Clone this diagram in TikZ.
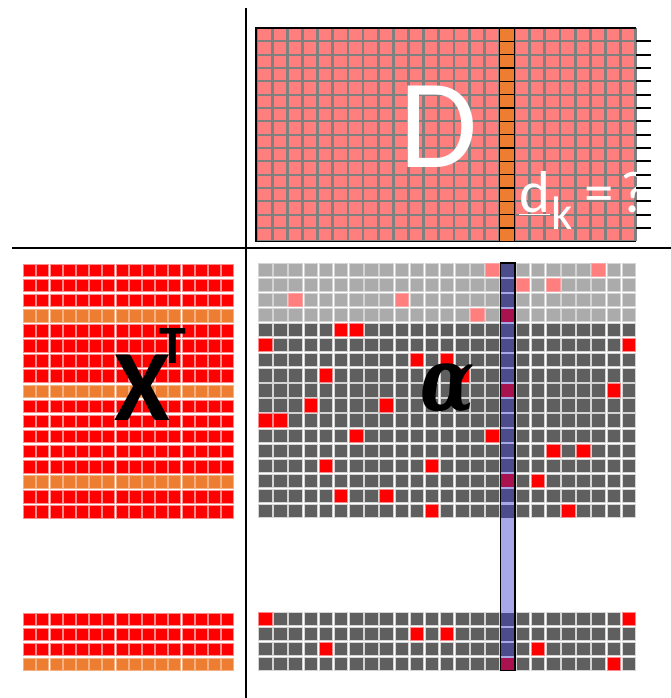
\documentclass[tikz,border=0pt]{standalone}
\usepackage{fontspec}
\usepackage{graphicx}
\newfontfamily\carl{Carlito}
\newfontfamily\dvserif{DejaVu Serif}
\definecolor{dpink}{HTML}{FF7F7F}
\definecolor{gridgray}{HTML}{808080}
\definecolor{dorange}{HTML}{ED7D31}
\definecolor{lgray}{HTML}{ABABAB}
\definecolor{dgray}{HTML}{5F5F5F}
\definecolor{cellrim}{HTML}{D4D4D4}
\definecolor{blight}{HTML}{A8A8E8}
\definecolor{bdark}{HTML}{4C4C8C}
\definecolor{bmag}{HTML}{A8124F}
\tikzset{
  xcell/.style={fill=red, draw=red!45, line width=0.6pt},
  xocell/.style={fill=dorange, draw=dorange!60, line width=0.6pt},
  lcell/.style={fill=lgray, draw=cellrim, line width=0.7pt},
  dcell/.style={fill=dgray, draw=cellrim, line width=0.7pt},
  pcell/.style={fill=dpink, draw=dpink!70, line width=0.7pt},
  rcell/.style={fill=red, draw=red!45, line width=0.7pt},
  bcell/.style={fill=bdark, draw=bdark, line width=0.4pt},
  mcell/.style={fill=bmag, draw=bmag, line width=0.4pt},
  axisline/.style={black, line width=2pt},
}
\begin{document}
\begin{tikzpicture}[x=1pt,y=-1pt]
\useasboundingbox (0,0) rectangle (671,698);
% ---------- D matrix ----------
\fill[dpink] (256,28) rectangle (636,241.3);
\foreach \k in {0,...,25} \draw[gridgray, line width=2.8pt] ({257+15.15*\k},28) -- ({257+15.15*\k},241.3);
\foreach \k in {0,...,16} \draw[gridgray, line width=2pt] (256,{28+13.33*\k}) -- (636,{28+13.33*\k});
\foreach \k in {0,...,15} \filldraw[fill=dorange, draw=black, line width=1.4pt] (499.4,{28+13.33*\k}) rectangle (514.6,{28+13.33*(\k+1)});
\draw[black, line width=1.5pt] (636,28) -- (256,28) -- (256,241.3) -- (636,241.3);
\node[anchor=base, text=white, inner sep=0, font=\carl\fontsize{127}{127}\selectfont] (dlabel) at (438.5,167) {D};
\node[anchor=base west, text=white, inner sep=0, font=\carl\fontsize{59}{59}\selectfont] (dk) at (519,212) {\underline{d}\kern1pt\raisebox{-17pt}{\fontsize{47}{47}\selectfont k}\hspace{12pt}=\hspace{7pt}?};
\foreach \k in {1,...,15} \draw[black, line width=1.8pt] (636,{28+13.33*\k}) -- (650.5,{28+13.33*\k});
% ---------- axes ----------
\draw[axisline] (12,248) -- (671,248);
\draw[axisline] (246,8) -- (246,698);
% ---------- X^T ----------
\foreach \r in {0,...,16} \foreach \c in {0,...,15} \filldraw[xcell] ({23.5+13.2*\c},{264+15.1*\r}) rectangle +(12,12.5);
\foreach \r in {3,8,14} \foreach \c in {0,...,15} \filldraw[xocell] ({23.5+13.2*\c},{264+15.1*\r}) rectangle +(12,12.5);
\foreach \r in {0,...,2} \foreach \c in {0,...,15} \filldraw[xcell] ({23.5+13.2*\c},{613.3+15*\r}) rectangle +(12,12.3);
\foreach \c in {0,...,15} \filldraw[xocell] ({23.5+13.2*\c},{613.3+15*3}) rectangle +(12,12.3);
\node[anchor=base west, inner sep=0, font=\carl\bfseries\fontsize{101}{101}\selectfont] (xt) at (114,420) {X\kern-10pt\raisebox{57pt}{\fontsize{54}{54}\selectfont T}};
% ---------- alpha ----------
\foreach \r in {0,...,3} \foreach \c in {0,...,24} \filldraw[lcell] ({258.5+15.15*\c},{263.3+15.05*\r}) rectangle +(13.5,13.2);
\foreach \r in {4,...,16} \foreach \c in {0,...,24} \filldraw[dcell] ({258.5+15.15*\c},{263.3+15.05*\r}) rectangle +(13.5,13.2);
\foreach \c/\r in {15/0,22/0,17/1,19/1,2/2,9/2,14/3} \filldraw[pcell] ({258.5+15.15*\c},{263.3+15.05*\r}) rectangle +(13.5,13.2);
\foreach \c/\r in {5/4,6/4,0/5,24/5,10/6,12/6,4/7,13/7,23/8,3/9,8/9,0/10,1/10,6/11,15/11,19/12,21/12,4/13,11/13,18/14,5/15,8/15,11/16,20/16} \filldraw[rcell] ({258.5+15.15*\c},{263.3+15.05*\r}) rectangle +(13.5,13.2);
\foreach \r in {0,...,3} \foreach \c in {0,...,24} \filldraw[dcell] ({258.5+15.15*\c},{612.3+15.1*\r}) rectangle +(13.5,13);
\foreach \c/\r in {0/0,24/0,10/1,12/1,4/2,18/2,23/3} \filldraw[rcell] ({258.5+15.15*\c},{612.3+15.1*\r}) rectangle +(13.5,13);
% blue column
\fill[blight] (500.5,263) rectangle (514.9,670.5);
\foreach \r in {0,...,16} \filldraw[bcell] (501.6,{263.3+15.05*\r+0.6}) rectangle +(12.2,12);
\foreach \r in {3,8,14} \filldraw[mcell] (501.6,{263.3+15.05*\r+0.6}) rectangle +(12.2,12);
\foreach \r in {0,...,2} \filldraw[bcell] (501.6,{612.3+15.1*\r+0.6}) rectangle +(12.2,11.8);
\filldraw[mcell] (501.6,{612.3+15.1*3+0.6}) rectangle +(12.2,11.8);
\draw[black, line width=1.5pt] (500.5,263) rectangle (514.9,670.5);
\node[anchor=base, inner sep=0, font=\dvserif\bfseries\itshape\fontsize{88}{88}\selectfont] (alpha) at (448,410) {\scalebox{0.8}[1]{α}};
\end{tikzpicture}
\end{document}
